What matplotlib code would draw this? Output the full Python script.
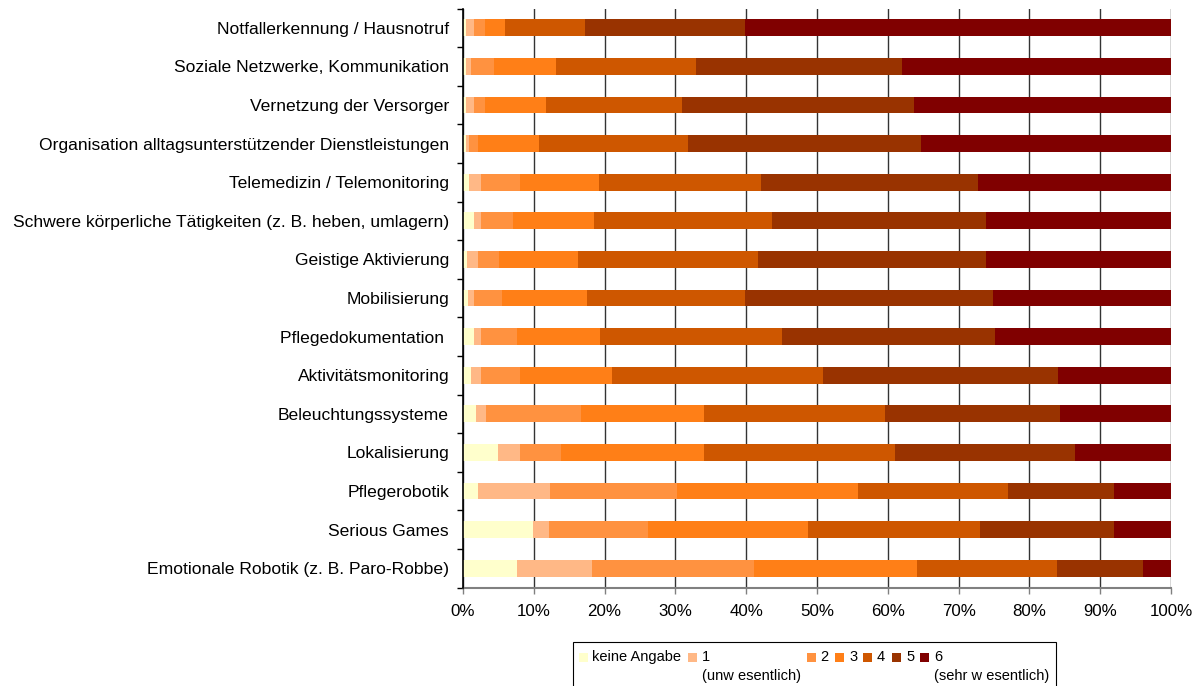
import matplotlib
matplotlib.use("Agg")
import matplotlib.pyplot as plt
from matplotlib.patches import Rectangle
import numpy as np

plt.rcParams['font.family'] = ['Liberation Sans', 'DejaVu Sans']

categories = [
    "Notfallerkennung / Hausnotruf",
    "Soziale Netzwerke, Kommunikation",
    "Vernetzung der Versorger",
    "Organisation alltagsunterstützender Dienstleistungen",
    "Telemedizin / Telemonitoring",
    "Schwere körperliche Tätigkeiten (z. B. heben, umlagern)",
    "Geistige Aktivierung",
    "Mobilisierung",
    "Pflegedokumentation ",
    "Aktivitätsmonitoring",
    "Beleuchtungssysteme",
    "Lokalisierung",
    "Pflegerobotik",
    "Serious Games",
    "Emotionale Robotik (z. B. Paro-Robbe)",
]

# shares (percent), per category
keine_angabe = [0.4, 0.4, 0.4, 0.4, 0.9, 1.5, 0.5, 0.7, 1.5, 1.1, 1.9, 4.9, 2.1, 9.9, 7.6]
wert_1 = [1.1, 0.7, 1.1, 0.5, 1.7, 1.1, 1.6, 0.8, 1.1, 1.5, 1.4, 3.1, 10.2, 2.2, 10.6]
wert_2 = [1.6, 3.3, 1.6, 1.2, 5.5, 4.4, 3.0, 4.0, 5.0, 5.4, 13.3, 5.8, 18.0, 14.0, 22.9]
wert_3 = [2.8, 8.8, 8.6, 8.6, 11.1, 11.5, 11.1, 12.0, 11.7, 13.0, 17.4, 20.3, 25.6, 22.6, 23.0]
wert_4 = [11.4, 19.7, 19.2, 21.1, 22.9, 25.1, 25.5, 22.4, 25.7, 29.8, 25.6, 26.9, 21.2, 24.3, 19.8]
wert_5 = [22.6, 29.1, 32.8, 33.0, 30.5, 30.3, 32.2, 35.0, 30.2, 33.3, 24.7, 25.5, 15.0, 19.0, 12.2]
wert_6 = [60.1, 38.1, 36.3, 35.3, 27.3, 26.1, 26.1, 25.1, 24.8, 15.9, 15.6, 13.5, 8.0, 8.0, 3.9]

series = [keine_angabe, wert_1, wert_2, wert_3, wert_4, wert_5, wert_6]
legend_labels = ["keine Angabe", "1\n(unw esentlich)", "2", "3", "4", "5", "6\n(sehr w esentlich)"]
colors = ["#FFFFCC", "#FFB886", "#FF9240", "#FF7F17", "#CE5700", "#993300", "#800000"]
x_ticks = [0, 10, 20, 30, 40, 50, 60, 70, 80, 90, 100]
x_tick_labels = ["0%", "10%", "20%", "30%", "40%", "50%", "60%", "70%", "80%", "90%", "100%"]

W, H = 1202, 686
fig = plt.figure(figsize=(W / 100, H / 100), dpi=100)
ax = fig.add_axes([463 / W, 1 - 587.5 / H, (1171 - 463) / W, (587.5 - 8.5) / H])

data = np.array(series, dtype=float)
totals = data.sum(axis=0)
data = data / totals * 100.0
y = np.arange(len(categories))
left = np.zeros(len(categories))
for vals, col in zip(data, colors):
    ax.barh(y, vals, left=left, height=0.44, color=col, edgecolor='none', zorder=3)
    left += vals

ax.set_xlim(0, 100)
ax.set_ylim(len(categories) - 0.5, -0.5)
ax.set_xticks(x_ticks)
ax.set_xticklabels(x_tick_labels, fontsize=12.2)
ax.set_yticks(y)
ax.set_yticklabels(categories, fontsize=12.6)
ax.set_yticks(np.arange(len(categories) + 1) - 0.5, minor=True)
ax.tick_params(axis='y', which='major', length=0, pad=10)
ax.tick_params(axis='y', which='minor', length=4, width=1, color='#000000', direction='out')
ax.tick_params(axis='x', which='major', length=4, width=1, color='#808080', pad=8)
ax.xaxis.grid(True, color='#333333', linewidth=1.0, zorder=1)
ax.set_axisbelow(True)
for s in ['top', 'right']:
    ax.spines[s].set_visible(False)
ax.spines['left'].set_color('#000000')
ax.spines['left'].set_linewidth(1.2)
ax.spines['left'].set_zorder(5)
ax.spines['bottom'].set_color('#808080')
ax.spines['bottom'].set_linewidth(1.5)

# legend box (manual, Excel-like layout)
def fx(px):
    return px / W

def fy(py):
    return 1 - py / H

fig.patches.append(Rectangle((fx(573), fy(700)), fx(1056) - fx(573), fy(642) - fy(700),
                             transform=fig.transFigure, facecolor='white', edgecolor='#000000',
                             linewidth=0.8))
marker_x = [579, 688, 807, 835, 863, 892, 920]
text_x = [592, 702, 820, 849, 877, 906, 934]
for mx, tx, col, lab in zip(marker_x, text_x, colors, legend_labels):
    fig.patches.append(Rectangle((fx(mx), fy(662)), fx(9), 9 / H, transform=fig.transFigure,
                                 facecolor=col, edgecolor='none'))
    fig.text(fx(tx), fy(650), lab, fontsize=10.5, ha='left', va='top', linespacing=1.45)

fig.savefig("out.png", dpi=100)
